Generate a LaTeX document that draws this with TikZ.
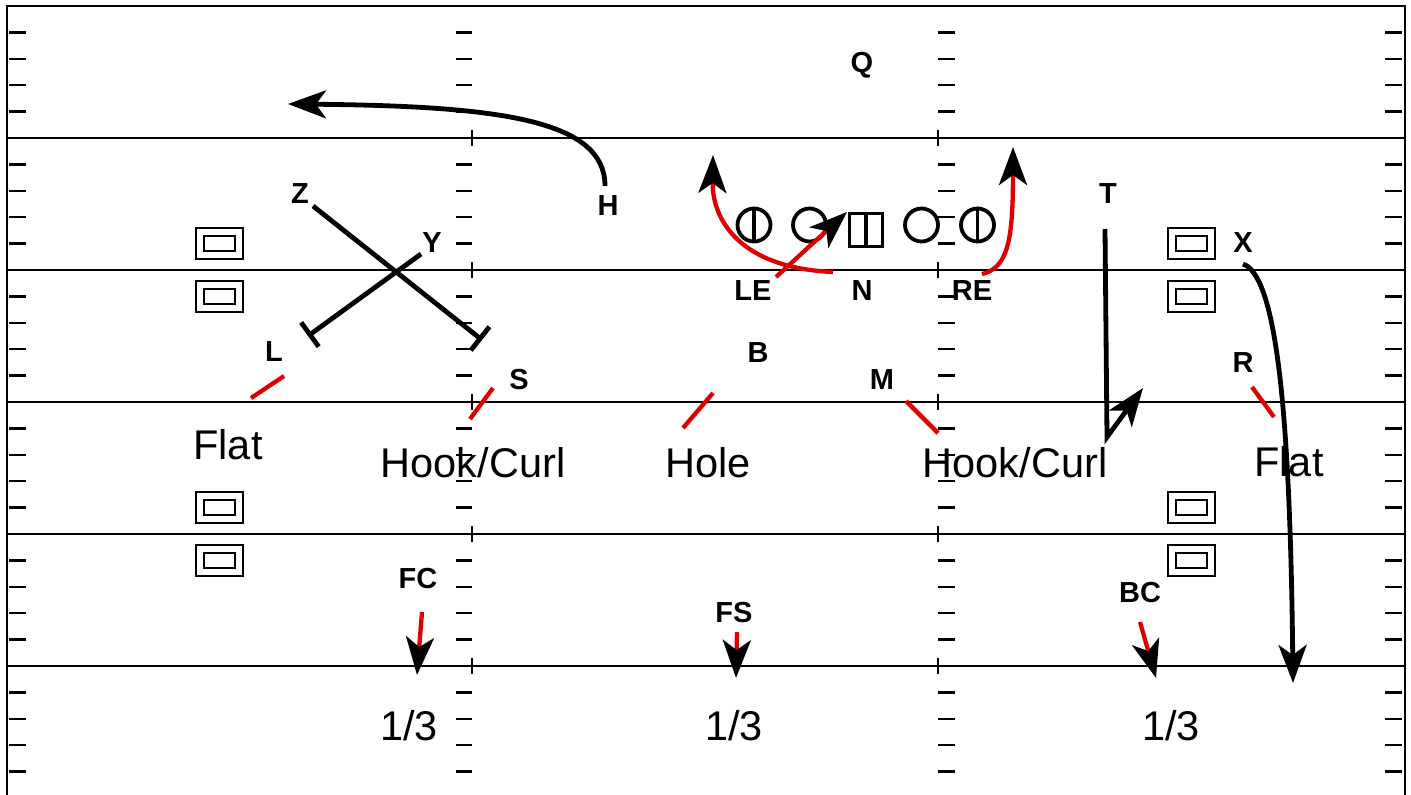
\documentclass[tikz,border=0pt]{standalone}
\usepackage{fontspec}
\setmainfont{Liberation Sans}
\usetikzlibrary{arrows.meta}
\definecolor{zred}{RGB}{222,0,0}
\begin{document}
\begin{tikzpicture}[x=1pt,y=-1pt,
  gridline/.style={line width=2.5pt},
  hashmark/.style={line width=2.5pt},
  route/.style={line width=4.8pt, draw=black},
  zone/.style={line width=4.3pt, draw=zred},
  tip/.style={-{Stealth[length=38pt,width=28pt,inset=10pt,color=black]}},
  blocktip/.style={-{Bar[width=30pt]}},
  lbl/.style={font=\fontsize{29}{29}\selectfont\bfseries, inner sep=0pt, anchor=base},
  ztext/.style={font=\fontsize{41.5}{41.5}\selectfont, inner sep=0pt, anchor=base},
  olman/.style={circle, draw, line width=3.8pt, minimum size=33pt, inner sep=0pt},
  center/.style={rectangle, draw, line width=3.8pt, minimum size=33pt, inner sep=0pt},
  outerbox/.style={rectangle, draw, line width=2.7pt, minimum width=47pt, minimum height=31pt, inner sep=0pt},
  innerbox/.style={rectangle, draw, line width=2.7pt, minimum width=31pt, minimum height=15pt, inner sep=0pt}
]
\useasboundingbox (0,0) rectangle (1411,795);
\fill[white] (0,0) rectangle (1411,795);

% field
\draw[gridline] (7,800) -- (7,6) -- (1405,6) -- (1405,800);
\foreach \yl in {138,270,402,534,666} {
  \draw[gridline] (7,\yl) -- (1405,\yl);
  \draw[hashmark] (472,\yl-8) -- (472,\yl+8);
  \draw[hashmark] (938,\yl-8) -- (938,\yl+8);
}
\foreach \k in {0,...,5} {
  \foreach \j in {1,...,4} {
    \pgfmathsetmacro\yy{6+132*\k+26.4*\j}
    \draw[hashmark] (9,\yy) -- (26,\yy);
    \draw[hashmark] (456,\yy) -- (472,\yy);
    \draw[hashmark] (938,\yy) -- (955,\yy);
    \draw[hashmark] (1385,\yy) -- (1402,\yy);
  }
}

% boxes
\foreach \bx/\by/\nm in {219.5/243.5/a, 219.5/296.5/b, 219.5/507.5/c, 219.5/560.5/d,
                         1191.5/243.5/e, 1191.5/296.5/f, 1191.5/507.5/g, 1191.5/560.5/h} {
  \node[outerbox] (box\nm) at (\bx,\by) {};
  \node[innerbox] (ibox\nm) at (box\nm) {};
}

% offensive line
\node[olman] (ol1) at (754,225) {};
\draw[line width=3.8pt] (ol1.north) -- (ol1.south);
\node[olman] (ol2) at (809.5,225) {};
\node[center] (ctr) at (866,230) {};
\draw[line width=3.8pt] (ctr.north) -- (ctr.south);
\node[olman] (ol4) at (921.5,225) {};
\node[olman] (ol5) at (977.5,225) {};
\draw[line width=3.8pt] (ol5.north) -- (ol5.south);

% labels
\node[lbl] (Q) at (862,72) {Q};
\node[lbl] (H) at (608,215) {H};
\node[lbl] (Z) at (300,203) {Z};
\node[lbl] (Y) at (432,252) {Y};
\node[lbl] (L) at (274,361) {L};
\node[lbl] (S) at (519,389) {S};
\node[lbl] (LE) at (753,300) {LE};
\node[lbl] (N) at (862,300) {N};
\node[lbl] (RE) at (972,300) {RE};
\node[lbl] (B) at (758,362) {B};
\node[lbl] (M) at (882,389) {M};
\node[lbl] (T) at (1108,203) {T};
\node[lbl] (X) at (1243,252) {X};
\node[lbl] (R) at (1243,372) {R};
\node[lbl] (FC) at (418,588) {FC};
\node[lbl] (FS) at (734,622) {FS};
\node[lbl] (BC) at (1140,602) {BC};

% zone texts
\node[ztext] (flatL) at (228,459) {Flat};
\node[ztext] (hookL) at (473,477) {Hook/Curl};
\node[ztext] (hole) at (708,477) {Hole};
\node[ztext] (hookR) at (1015,477) {Hook/Curl};
\node[ztext] (flatR) at (1289,476) {Flat};
\node[ztext] (thirdL) at (409,740) {1/3};
\node[ztext] (thirdM) at (734,740) {1/3};
\node[ztext] (thirdR) at (1171,740) {1/3};

% offensive routes
\coordinate (hs) at (605,186);
\coordinate (he) at (288,104);
\draw[route,tip] (hs) .. controls (605,120) and (500,106) .. (he);

\coordinate (zs) at (313,206);
\coordinate (ze) at (482,340);
\draw[route,blocktip] (zs) -- (ze);
\coordinate (ys) at (421,254);
\coordinate (ye) at (308,336);
\draw[route,blocktip] (ys) -- (ye);

\coordinate (ts) at (1105,229);
\coordinate (tb) at (1107,437);
\coordinate (te) at (1143,388);
\draw[route,tip] (ts) -- (tb) -- (te);

\coordinate (xs) at (1243,264);
\coordinate (xe) at (1293,683);
\draw[route,tip] (xs) .. controls (1275,275) and (1290,400) .. (xe);

% defensive line moves
\coordinate (les) at (776,277);
\coordinate (lee) at (847,212);
\draw[zone,tip] (les) -- (lee);
\coordinate (ns) at (833,272);
\coordinate (ne) at (713,155);
\draw[zone,tip] (ns) .. controls (740,268) and (712,220) .. (ne);
\coordinate (res) at (982,274);
\coordinate (ree) at (1013,147);
\draw[zone,tip] (res) .. controls (1008,268) and (1013,240) .. (ree);

% zone drops
\coordinate (l1) at (251,398); \coordinate (l2) at (284,376);
\draw[zone] (l1) -- (l2);
\coordinate (s1) at (470,419); \coordinate (s2) at (493,388);
\draw[zone] (s1) -- (s2);
\coordinate (b1) at (683,428); \coordinate (b2) at (713,393);
\draw[zone] (b1) -- (b2);
\coordinate (m1) at (906,401); \coordinate (m2) at (938,433);
\draw[zone] (m1) -- (m2);
\coordinate (r1) at (1252,387); \coordinate (r2) at (1274,417);
\draw[zone] (r1) -- (r2);

\coordinate (fc1) at (422,612); \coordinate (fc2) at (417,675);
\draw[zone,tip] (fc1) -- (fc2);
\coordinate (fs1) at (737,632); \coordinate (fs2) at (736,678);
\draw[zone,tip] (fs1) -- (fs2);
\coordinate (bc1) at (1140,622); \coordinate (bc2) at (1156,678);
\draw[zone,tip] (bc1) -- (bc2);
\end{tikzpicture}
\end{document}
